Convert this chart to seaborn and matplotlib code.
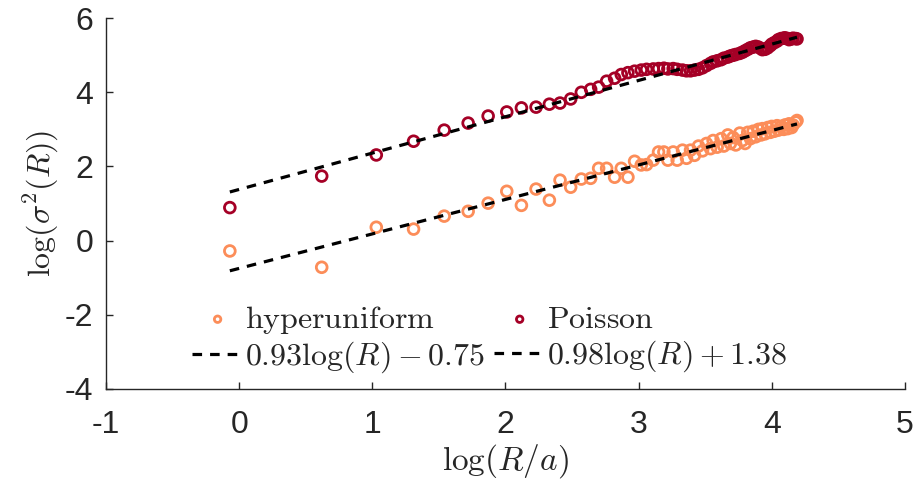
import matplotlib
matplotlib.use('Agg')
import matplotlib.pyplot as plt
import numpy as np
import pandas as pd
import seaborn as sns

# log(R/a) sample positions (same for both data sets)
log_r = [-0.07, 0.62, 1.03, 1.31, 1.54, 1.72, 1.87, 2.01, 2.12, 2.23,
         2.33, 2.41, 2.49, 2.57, 2.64, 2.70, 2.76, 2.82, 2.87, 2.92,
         2.97, 3.02, 3.06, 3.11, 3.15, 3.19, 3.22, 3.26, 3.29, 3.33,
         3.36, 3.39, 3.42, 3.45, 3.48, 3.51, 3.54, 3.56, 3.59, 3.62,
         3.64, 3.67, 3.69, 3.71, 3.73, 3.76, 3.78, 3.80, 3.82, 3.84,
         3.86, 3.88, 3.90, 3.92, 3.93, 3.95, 3.97, 3.99, 4.00, 4.02,
         4.04, 4.05, 4.07, 4.09, 4.10, 4.12, 4.13, 4.15, 4.16, 4.18, 4.19]

hyper_var = [-0.28, -0.72, 0.36, 0.31, 0.66, 0.79, 1.01, 1.33, 0.95, 1.39,
             1.09, 1.63, 1.44, 1.66, 1.68, 1.95, 1.95, 1.71, 1.95, 1.71,
             2.14, 2.04, 2.05, 2.17, 2.39, 2.39, 2.17, 2.39, 2.17, 2.44,
             2.22, 2.44, 2.30, 2.55, 2.42, 2.62, 2.48, 2.70, 2.52, 2.75,
             2.55, 2.85, 2.62, 2.78, 2.58, 2.90, 2.70, 2.62, 2.92, 2.75,
             2.95, 2.80, 3.00, 2.85, 3.02, 2.88, 3.05, 2.92, 3.08, 2.95,
             3.10, 2.98, 3.08, 3.00, 3.12, 3.02, 3.15, 3.05, 3.12, 3.20, 3.24]

poisson_var = [0.89, 1.74, 2.31, 2.68, 2.98, 3.17, 3.36, 3.47, 3.58, 3.60,
               3.68, 3.71, 3.82, 4.00, 4.08, 4.14, 4.30, 4.38, 4.48, 4.53,
               4.57, 4.60, 4.62, 4.63, 4.64, 4.65, 4.63, 4.64, 4.62, 4.60,
               4.58, 4.58, 4.60, 4.62, 4.66, 4.72, 4.78, 4.82, 4.85, 4.88,
               4.92, 4.95, 4.98, 5.00, 5.02, 5.05, 5.08, 5.12, 5.16, 5.20,
               5.22, 5.24, 5.22, 5.18, 5.15, 5.16, 5.20, 5.26, 5.30, 5.34,
               5.38, 5.42, 5.45, 5.46, 5.47, 5.45, 5.42, 5.44, 5.46, 5.45, 5.44]

# linear fits: slope, intercept
hyper_fit = (0.93, -0.75)
poisson_fit = (0.98, 1.38)

sns.set_style('ticks')
plt.rcParams['font.family'] = ['Liberation Sans', 'DejaVu Sans']
plt.rcParams['mathtext.fontset'] = 'cm'
plt.rcParams['axes.unicode_minus'] = False

orange = '#fc8d59'
darkred = '#a50026'

df = pd.DataFrame({'x': log_r, 'hyper': hyper_var, 'poisson': poisson_var})
x_arr = np.array(log_r)
df['hyper_fit'] = hyper_fit[0] * x_arr + hyper_fit[1]
df['poisson_fit'] = poisson_fit[0] * x_arr + poisson_fit[1]

fig = plt.figure(figsize=(9.14, 4.91), dpi=100)
ax = fig.add_axes([0.116, 0.208, 0.874, 0.755])

sns.scatterplot(data=df, x='x', y='hyper', ax=ax, marker='o', s=60,
                facecolors='none', edgecolor=orange, linewidth=2,
                label=r'$\mathrm{hyperuniform}$')
sns.scatterplot(data=df, x='x', y='poisson', ax=ax, marker='o', s=60,
                facecolors='none', edgecolor=darkred, linewidth=2,
                label=r'$\mathrm{Poisson}$')
sns.lineplot(data=df, x='x', y='hyper_fit', ax=ax, color='black', lw=2.3,
             dashes=False, linestyle=(0, (3, 2.5)),
             label=r'$0.93\log(R) - 0.75$')
sns.lineplot(data=df, x='x', y='poisson_fit', ax=ax, color='black', lw=2.3,
             dashes=False, linestyle=(0, (3, 2.5)),
             label=r'$0.98\log(R) + 1.38$')

ax.set_xlim(-1, 5)
ax.set_ylim(-4, 6)
ax.set_xticks([-1, 0, 1, 2, 3, 4, 5])
ax.set_yticks([-4, -2, 0, 2, 4, 6])
ax.tick_params(direction='in', length=5, width=1, labelsize=23,
               colors='#262626')
ax.tick_params(axis='x', pad=15)
ax.tick_params(axis='y', pad=9)
for s in ['left', 'bottom']:
    ax.spines[s].set_color('#262626')
    ax.spines[s].set_linewidth(1)
sns.despine(ax=ax)

ax.set_xlabel(r'$\log(R/a)$', fontsize=24, labelpad=2)
ax.set_ylabel(r'$\log(\sigma^2(R))$', fontsize=23, labelpad=3)

handles, labels = ax.get_legend_handles_labels()
order = [0, 2, 1, 3]
ax.legend([handles[i] for i in order], [labels[i] for i in order],
          ncol=2, frameon=False, fontsize=23, loc='lower center',
          bbox_to_anchor=(0.48, -0.04), handlelength=1.6, handletextpad=0.05,
          columnspacing=0.3, labelspacing=0.12, markerscale=0.6)

fig.savefig('out.png', dpi=100)
